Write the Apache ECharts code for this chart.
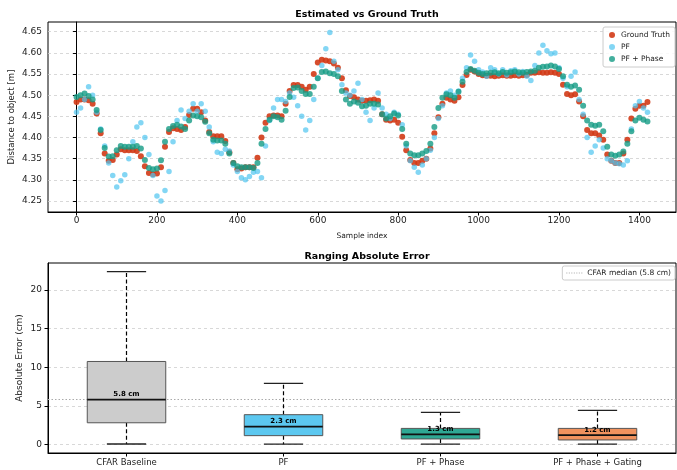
<!DOCTYPE html>
<html>
<head>
<meta charset="utf-8">
<script src="https://cdn.jsdelivr.net/npm/echarts@6/dist/echarts.min.js"></script>
<style>html,body{margin:0;padding:0;background:#fff}#c{width:677px;height:470px}</style>
</head>
<body>
<div id="c"></div>
<script>
// ---------- Data (top: every 10th sample) ----------
const sampleStep = 10;
const groundTruth = [
4.484,4.490,4.490,4.488,4.480,4.457,4.410,4.362,4.345,4.347,
4.360,4.372,4.370,4.370,4.370,4.368,4.356,4.332,4.316,4.313,
4.315,4.330,4.378,4.413,4.422,4.420,4.418,4.425,4.453,4.468,
4.468,4.460,4.440,4.413,4.403,4.403,4.403,4.392,4.365,4.340,
4.325,4.327,4.330,4.330,4.330,4.352,4.400,4.435,4.450,4.452,
4.452,4.450,4.480,4.510,4.524,4.524,4.520,4.513,4.520,4.550,
4.577,4.584,4.582,4.580,4.575,4.565,4.540,4.512,4.498,4.495,
4.490,4.487,4.487,4.488,4.490,4.487,4.455,4.442,4.440,4.442,
4.435,4.402,4.370,4.347,4.340,4.340,4.345,4.350,4.374,4.410,
4.448,4.480,4.494,4.490,4.487,4.495,4.524,4.548,4.560,4.556,
4.550,4.547,4.546,4.546,4.545,4.546,4.547,4.546,4.546,4.547,
4.546,4.547,4.548,4.553,4.553,4.554,4.553,4.553,4.554,4.553,
4.550,4.525,4.503,4.500,4.502,4.485,4.450,4.418,4.410,4.410,
4.405,4.395,4.360,4.345,4.340,4.340,4.362,4.395,4.445,4.468,
4.475,4.475,4.484
];
const pf = [
4.460,4.470,4.490,4.520,4.500,4.460,4.420,4.380,4.340,4.310,
4.283,4.298,4.312,4.350,4.390,4.425,4.435,4.400,4.360,4.310,
4.262,4.250,4.275,4.320,4.390,4.440,4.465,4.445,4.462,4.480,
4.462,4.480,4.462,4.425,4.390,4.365,4.362,4.372,4.368,4.335,
4.320,4.305,4.300,4.308,4.318,4.320,4.305,4.380,4.440,4.470,
4.490,4.490,4.485,4.505,4.495,4.475,4.450,4.418,4.440,4.490,
4.540,4.570,4.610,4.648,4.580,4.560,4.525,4.505,4.500,4.510,
4.528,4.490,4.460,4.440,4.470,4.505,4.470,4.455,4.445,4.460,
4.455,4.430,4.380,4.345,4.330,4.318,4.335,4.350,4.370,4.400,
4.445,4.475,4.505,4.510,4.500,4.510,4.540,4.565,4.595,4.580,
4.560,4.555,4.545,4.565,4.560,4.550,4.560,4.548,4.558,4.560,
4.550,4.556,4.545,4.535,4.570,4.600,4.618,4.605,4.598,4.600,
4.565,4.540,4.520,4.545,4.555,4.490,4.455,4.400,4.365,4.380,
4.395,4.375,4.350,4.345,4.340,4.338,4.335,4.345,4.420,4.475,
4.485,4.470,4.460
];
const pfPhase = [
4.496,4.500,4.504,4.498,4.490,4.465,4.418,4.375,4.355,4.356,
4.370,4.380,4.378,4.378,4.378,4.380,4.374,4.347,4.328,4.325,
4.327,4.346,4.390,4.420,4.427,4.430,4.426,4.420,4.440,4.452,
4.450,4.448,4.437,4.410,4.395,4.393,4.393,4.385,4.362,4.340,
4.332,4.330,4.330,4.330,4.328,4.340,4.385,4.420,4.442,4.450,
4.448,4.442,4.463,4.496,4.517,4.518,4.510,4.503,4.503,4.520,
4.540,4.555,4.556,4.552,4.550,4.545,4.510,4.490,4.480,4.485,
4.482,4.474,4.475,4.480,4.480,4.478,4.455,4.445,4.450,4.457,
4.452,4.420,4.385,4.362,4.358,4.358,4.362,4.368,4.385,4.425,
4.470,4.494,4.502,4.500,4.494,4.508,4.532,4.555,4.562,4.558,
4.553,4.550,4.552,4.553,4.554,4.552,4.555,4.553,4.554,4.556,
4.554,4.553,4.555,4.556,4.558,4.565,4.567,4.568,4.570,4.568,
4.562,4.545,4.525,4.520,4.523,4.513,4.475,4.440,4.430,4.428,
4.430,4.415,4.378,4.360,4.357,4.360,4.367,4.385,4.415,4.440,
4.447,4.442,4.438
];
const xTicks = [0,200,400,600,800,1000,1200,1400];
const yTicksTop = [4.25,4.30,4.35,4.40,4.45,4.50,4.55,4.60,4.65];

// ---------- Data (bottom: box statistics, cm) ----------
const methods = ['CFAR Baseline','PF','PF + Phase','PF + Phase + Gating'];
const whiskerLow = [0.05,0.02,0.02,0.02];
const q1 = [2.8,1.13,0.7,0.57];
const medians = [5.8,2.3,1.3,1.2];
const q3 = [10.75,3.85,2.07,2.07];
const whiskerHigh = [22.4,7.9,4.15,4.4];
const yTicksBottom = [0,5,10,15,20];
const cfarMedian = 5.8;

const boxColors = ['#cccccc','#5cc8f0','#2fa894','#f0925e'];
const FONT = 'DejaVu Sans';

const toPairs = arr => arr.map((v,k)=>[k*sampleStep, v]);

const boxData = methods.map((m,k)=>({
  value:[k, whiskerLow[k], q1[k], medians[k], q3[k], whiskerHigh[k]],
  itemStyle:{color: boxColors[k]}
}));

function renderBox(params, api){
  const x = api.value(0);
  const lo = api.coord([x, api.value(1)]);
  const b1 = api.coord([x, api.value(2)]);
  const md = api.coord([x, api.value(3)]);
  const b3 = api.coord([x, api.value(4)]);
  const hi = api.coord([x, api.value(5)]);
  const band = api.size([1,0])[0];
  const bw = band*0.5, cw = band*0.25, cx = lo[0];
  const fill = boxColors[params.dataIndex];
  return {type:'group', children:[
    {type:'line', shape:{x1:cx,y1:b1[1],x2:cx,y2:lo[1]}, style:{stroke:'#000',lineWidth:1.2,lineDash:[4,2.5]}},
    {type:'line', shape:{x1:cx,y1:b3[1],x2:cx,y2:hi[1]}, style:{stroke:'#000',lineWidth:1.2,lineDash:[4,2.5]}},
    {type:'line', shape:{x1:cx-cw/2,y1:lo[1],x2:cx+cw/2,y2:lo[1]}, style:{stroke:'#222',lineWidth:1.3}},
    {type:'line', shape:{x1:cx-cw/2,y1:hi[1],x2:cx+cw/2,y2:hi[1]}, style:{stroke:'#222',lineWidth:1.3}},
    {type:'rect', shape:{x:cx-bw/2,y:b3[1],width:bw,height:b1[1]-b3[1]}, style:{fill:fill,stroke:'#555',lineWidth:1}},
    {type:'line', shape:{x1:cx-bw/2,y1:md[1],x2:cx+bw/2,y2:md[1]}, style:{stroke:'#111',lineWidth:1.8}},
    {type:'text', z2:10, style:{text: api.value(3).toFixed(1)+' cm', x:cx, y:md[1]-1.5, align:'center', verticalAlign:'bottom', font:'bold 7px "DejaVu Sans"', fill:'#000'}}
  ]};
}

const dottedIcon = 'path://M0,0h1v1h-1zM2.5,0h1v1h-1zM5,0h1v1h-1zM7.5,0h1v1h-1zM10,0h1v1h-1zM12.5,0h1v1h-1zM15,0h1v1h-1z';
const axisTxt = {fontFamily:FONT, fontSize:9, color:'#222'};
const chart = echarts.init(document.getElementById('c'), null, {renderer:'canvas'});
chart.setOption({
  animation:false,
  backgroundColor:'#fff',
  title:[
    {text:'Estimated vs Ground Truth', left:362, top:5, textAlign:'center', textStyle:{fontFamily:FONT,fontSize:9.5,fontWeight:'bold',color:'#000'}},
    {text:'Ranging Absolute Error', left:362, top:247, textAlign:'center', textStyle:{fontFamily:FONT,fontSize:9.5,fontWeight:'bold',color:'#000'}}
  ],
  legend:[
    {data:['Ground Truth','PF','PF + Phase'], orient:'vertical', right:2, top:27, itemWidth:8, itemHeight:6, itemGap:4,
     padding:[4,5,4,6], borderColor:'#ccc', borderWidth:1, borderRadius:2, backgroundColor:'rgba(255,255,255,0.85)',
     textStyle:{fontFamily:FONT,fontSize:7.5,color:'#222'}, icon:'circle'},
    {data:[{name:'CFAR median (5.8 cm)', icon:dottedIcon}], right:2, top:266, itemWidth:16, itemHeight:1.2, padding:[3,4,3,4],
     borderColor:'#ccc', borderWidth:1, borderRadius:2, backgroundColor:'#fff',
     textStyle:{fontFamily:FONT,fontSize:7.5,color:'#222'}}
  ],
  grid:[
    {left:48, right:1, top:22, bottom:258, show:true, borderColor:'#000', borderWidth:1, backgroundColor:'transparent', containLabel:false, outerBoundsMode:'none'},
    {left:48, right:1, top:263, bottom:17, show:true, borderColor:'#000', borderWidth:1, backgroundColor:'transparent', containLabel:false, outerBoundsMode:'none'}
  ],
  xAxis:[
    {type:'value', gridIndex:0, min:-71, max:1491,
     name:'Sample index', nameLocation:'middle', nameGap:20, nameMoveOverlap:false, nameTextStyle:{fontFamily:FONT,fontSize:7.5,color:'#222'},
     axisLine:{show:true,onZero:false,lineStyle:{color:'#000'}}, axisTick:{show:true,length:3.5,customValues:xTicks,lineStyle:{color:'#000'}},
     axisLabel:Object.assign({customValues:xTicks, margin:4, formatter:v=>String(v)}, axisTxt), splitLine:{show:false}},
    {type:'category', gridIndex:1, data:methods,
     axisLine:{show:true,onZero:false,lineStyle:{color:'#000'}}, axisTick:{show:true,length:3.5,alignWithLabel:true,lineStyle:{color:'#000'}},
     axisLabel:Object.assign({margin:5}, axisTxt, {fontSize:8.5}), splitLine:{show:false}}
  ],
  yAxis:[
    {type:'value', gridIndex:0, min:4.224, max:4.673,
     name:'Distance to object [m]', nameLocation:'middle', nameGap:32, nameMoveOverlap:false, nameTextStyle:{fontFamily:FONT,fontSize:8.5,color:'#222'},
     axisLine:{show:true,lineStyle:{color:'#000'}}, axisTick:{show:true,length:3.5,customValues:yTicksTop,lineStyle:{color:'#000'}},
     axisLabel:Object.assign({customValues:yTicksTop, margin:6, formatter:v=>v.toFixed(2)}, axisTxt),
     splitLine:{show:true,lineStyle:{color:'#cfcfcf',type:[3,3],width:0.8}}},
    {type:'value', gridIndex:1, min:-1.12, max:23.52,
     name:'Absolute Error (cm)', nameLocation:'middle', nameGap:24, nameMoveOverlap:false, nameTextStyle:{fontFamily:FONT,fontSize:9,color:'#222'},
     axisLine:{show:true,lineStyle:{color:'#000'}}, axisTick:{show:true,length:3.5,customValues:yTicksBottom,lineStyle:{color:'#000'}},
     axisLabel:Object.assign({customValues:yTicksBottom, margin:6}, axisTxt),
     splitLine:{show:true,lineStyle:{color:'#cfcfcf',type:[3,3],width:0.8}}}
  ],
  series:[
    {name:'Ground Truth', type:'scatter', xAxisIndex:0, yAxisIndex:0, data:toPairs(groundTruth), symbolSize:6,
     itemStyle:{color:'#d13a16', opacity:0.9}, z:2},
    {name:'PF', type:'scatter', xAxisIndex:0, yAxisIndex:0, data:toPairs(pf), symbolSize:5.5,
     itemStyle:{color:'#4fc4ef', opacity:0.7}, z:3},
    {name:'PF + Phase', type:'scatter', xAxisIndex:0, yAxisIndex:0, data:toPairs(pfPhase), symbolSize:6,
     itemStyle:{color:'#149b85', opacity:0.8}, z:4},
    {name:'CFAR median (5.8 cm)', type:'line', xAxisIndex:1, yAxisIndex:1, data:[], showSymbol:false, symbol:'none',
     lineStyle:{color:'#aaaaaa', type:[1.5,2], width:1}, itemStyle:{color:'#aaaaaa'},
     markLine:{silent:true, symbol:'none', label:{show:false}, lineStyle:{color:'#aaaaaa', type:[1.5,2], width:1},
       data:[{yAxis:cfarMedian}]}, z:1},
    {name:'Boxes', type:'custom', xAxisIndex:1, yAxisIndex:1, data:boxData, renderItem:renderBox, z:5}
  ]
});
</script>
</body>
</html>
